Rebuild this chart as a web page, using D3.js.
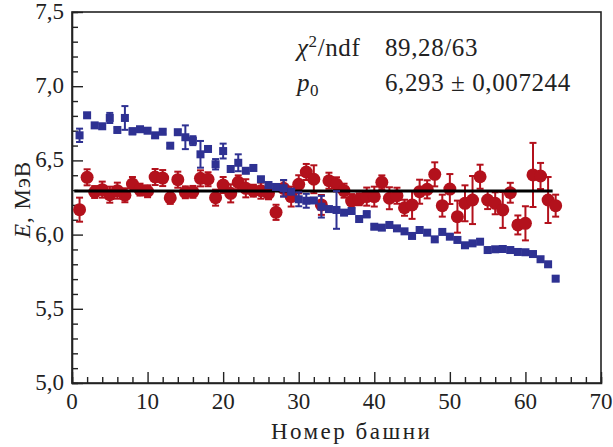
<!DOCTYPE html>
<html>
<head>
<meta charset="utf-8">
<script src="https://cdn.jsdelivr.net/npm/d3@7"></script>
<style>
  body { margin: 0; background: #fff; }
  svg text { font-family: "Liberation Serif", "Times New Roman", Tinos, "Noto Serif", "DejaVu Serif", FreeSerif, serif; fill: #222; }
</style>
</head>
<body>
<div id="chart"></div>
<script>
// tower numbers 1..64
const towers = [
  1, 2, 3, 4, 5, 6, 7, 8, 9, 10, 11, 12, 13, 14, 15, 16,
  17, 18, 19, 20, 21, 22, 23, 24, 25, 26, 27, 28, 29, 30, 31, 32,
  33, 34, 35, 36, 37, 38, 39, 40, 41, 42, 43, 44, 45, 46, 47, 48,
  49, 50, 51, 52, 53, 54, 55, 56, 57, 58, 59, 60, 61, 62, 63, 64
];

// blue squares (before calibration)
const blueE = [
  6.669, 6.804, 6.736, 6.730, 6.786, 6.705, 6.786, 6.696, 6.710, 6.700, 6.669, 6.693, 6.599, 6.690, 6.656, 6.633,
  6.541, 6.577, 6.474, 6.563, 6.442, 6.484, 6.430, 6.449, 6.373, 6.334, 6.321, 6.312, 6.289, 6.238, 6.228, 6.230,
  6.188, 6.172, 6.166, 6.148, 6.159, 6.105, 6.137, 6.053, 6.047, 6.065, 6.042, 6.022, 5.991, 6.031, 6.013, 5.968,
  6.018, 5.986, 5.964, 5.928, 5.941, 5.952, 5.896, 5.901, 5.903, 5.896, 5.883, 5.881, 5.869, 5.834, 5.800, 5.703
];
const blueErr = [
  0.045, 0.015, 0.015, 0.015, 0.034, 0.015, 0.080, 0.020, 0.015, 0.015, 0.015, 0.015, 0.015, 0.015, 0.080, 0.030,
  0.090, 0.015, 0.035, 0.050, 0.015, 0.057, 0.015, 0.015, 0.015, 0.015, 0.015, 0.056, 0.015, 0.047, 0.047, 0.015,
  0.073, 0.015, 0.127, 0.015, 0.015, 0.015, 0.020, 0.015, 0.015, 0.015, 0.015, 0.015, 0.015, 0.015, 0.015, 0.015,
  0.015, 0.015, 0.015, 0.015, 0.015, 0.015, 0.015, 0.015, 0.015, 0.015, 0.015, 0.015, 0.015, 0.015, 0.015, 0.015
];

// red circles (after calibration)
const redE = [
  6.168, 6.386, 6.287, 6.303, 6.269, 6.296, 6.265, 6.341, 6.303, 6.292, 6.388, 6.381, 6.247, 6.370, 6.285, 6.288,
  6.379, 6.373, 6.249, 6.334, 6.278, 6.352, 6.312, 6.296, 6.296, 6.278, 6.150, 6.312, 6.256, 6.339, 6.422, 6.373,
  6.200, 6.363, 6.339, 6.296, 6.226, 6.238, 6.256, 6.256, 6.352, 6.245, 6.262, 6.181, 6.200, 6.289, 6.305, 6.406,
  6.195, 6.307, 6.121, 6.211, 6.233, 6.390, 6.233, 6.211, 6.166, 6.282, 6.065, 6.076, 6.402, 6.395, 6.233, 6.195
];
const redErr = [
  0.081, 0.054, 0.040, 0.054, 0.054, 0.054, 0.047, 0.047, 0.040, 0.040, 0.054, 0.054, 0.040, 0.054, 0.040, 0.040,
  0.054, 0.047, 0.054, 0.054, 0.061, 0.047, 0.061, 0.040, 0.054, 0.040, 0.051, 0.054, 0.067, 0.061, 0.054, 0.094,
  0.067, 0.054, 0.047, 0.047, 0.047, 0.040, 0.061, 0.067, 0.047, 0.074, 0.054, 0.054, 0.094, 0.081, 0.061, 0.081,
  0.074, 0.101, 0.108, 0.121, 0.162, 0.081, 0.061, 0.074, 0.121, 0.067, 0.064, 0.115, 0.216, 0.088, 0.155, 0.074
];

// constant fit
const fitP0 = 6.293;
const fitRange = [0.3, 63.6];
const statValues = ["89,28/63", "6,293 ± 0,007244"];

const xTickValues = [0, 10, 20, 30, 40, 50, 60, 70];
const yTickValues = [5.0, 5.5, 6.0, 6.5, 7.0, 7.5];

const width = 613, height = 447;
const margin = { top: 12, right: 12, bottom: 64, left: 72 };
const fmt = d => d3.format('.1f')(d).replace('.', ',');

const svg = d3.select('#chart').append('svg')
  .attr('width', width)
  .attr('height', height);

const x = d3.scaleLinear().domain([0, 70]).range([margin.left, width - margin.right]);
const y = d3.scaleLinear().domain([5.0, 7.5]).range([height - margin.bottom, margin.top]);

const red = '#b3111c';
const blue = '#2e3192';

// frame
svg.append('rect')
  .attr('x', x(0)).attr('y', y(7.5))
  .attr('width', x(70) - x(0)).attr('height', y(5.0) - y(7.5))
  .attr('fill', 'none').attr('stroke', '#222').attr('stroke-width', 1.6);

// ticks (inward)
const xAxis = d3.axisBottom(x).tickValues(d3.range(0, 71, 2))
  .tickSize(-6).tickFormat('');
const xg = svg.append('g').attr('transform', `translate(0,${y(5.0)})`).call(xAxis);
xg.selectAll('.tick line').filter(d => d % 10 === 0).attr('y2', -11);

const yAxis = d3.axisLeft(y).tickValues(d3.range(50, 76, 1).map(d => d / 10))
  .tickSize(-6).tickFormat('');
const yg = svg.append('g').attr('transform', `translate(${x(0)},0)`).call(yAxis);
yg.selectAll('.tick line').filter(d => Math.round(d * 10) % 5 === 0).attr('x2', 11);

[xg, yg].forEach(g => {
  g.select('.domain').attr('stroke', '#222').attr('stroke-width', 1.6);
  g.selectAll('.tick line').attr('stroke', '#222').attr('stroke-width', 1.4);
});

// tick labels
svg.append('g').selectAll('text')
  .data(xTickValues).join('text')
  .attr('x', d => x(d)).attr('y', y(5.0) + 26)
  .attr('text-anchor', 'middle')
  .style('font-size', '23px')
  .text(d => d);

svg.append('g').selectAll('text')
  .data(yTickValues).join('text')
  .attr('x', x(0) - 8).attr('y', d => y(d) + 7)
  .attr('text-anchor', 'end')
  .style('font-size', '23px')
  .text(fmt);

// axis titles
svg.append('text')
  .attr('x', x(37)).attr('y', height - 8)
  .attr('text-anchor', 'middle')
  .style('font-size', '23px')
  .style('letter-spacing', '2.5px')
  .text('Номер башни');

const yt = svg.append('text')
  .attr('transform', `translate(30,${(y(5) + y(7.5)) / 2 + 2}) rotate(-90)`)
  .attr('text-anchor', 'middle')
  .style('font-size', '23px')
  .style('letter-spacing', '1px');
yt.append('tspan').style('font-style', 'italic').text('E');
yt.append('tspan').text(', МэВ');

const redData = towers.map((t, i) => ({ t, e: redE[i], err: redErr[i] }));
const blueData = towers.map((t, i) => ({ t, e: blueE[i], err: blueErr[i] }));

function errorBars(data, color, cls) {
  const g = svg.append('g').attr('class', cls);
  g.selectAll('line.v').data(data).join('line')
    .attr('class', 'v')
    .attr('x1', d => x(d.t)).attr('x2', d => x(d.t))
    .attr('y1', d => y(d.e - d.err)).attr('y2', d => y(d.e + d.err))
    .attr('stroke', color).attr('stroke-width', 2);
  ['lo', 'hi'].forEach(side => {
    g.selectAll('line.' + side).data(data).join('line')
      .attr('class', side)
      .attr('x1', d => x(d.t) - 3.5).attr('x2', d => x(d.t) + 3.5)
      .attr('y1', d => y(side === 'lo' ? d.e - d.err : d.e + d.err))
      .attr('y2', d => y(side === 'lo' ? d.e - d.err : d.e + d.err))
      .attr('stroke', color).attr('stroke-width', 2);
  });
  return g;
}

// red points
errorBars(redData, red, 'red-err');
svg.append('g').selectAll('circle')
  .data(redData).join('circle')
  .attr('cx', d => x(d.t)).attr('cy', d => y(d.e))
  .attr('r', 6.5)
  .attr('fill', red);

// fit line
svg.append('line')
  .attr('x1', x(fitRange[0])).attr('x2', x(fitRange[1]))
  .attr('y1', y(fitP0)).attr('y2', y(fitP0))
  .attr('stroke', '#000').attr('stroke-width', 3);

// blue points
errorBars(blueData, blue, 'blue-err');
svg.append('g').selectAll('rect')
  .data(blueData).join('rect')
  .attr('x', d => x(d.t) - 4).attr('y', d => y(d.e) - 4)
  .attr('width', 8).attr('height', 8)
  .attr('fill', blue);

// fit statistics
const stats = svg.append('g').style('font-size', '25px').style('letter-spacing', '0.6px');
stats.append('text').attr('x', 297).attr('y', 56)
  .html('<tspan font-style="italic">χ</tspan><tspan dy="-9" font-size="17">2</tspan><tspan dy="9">/ndf</tspan>');
stats.append('text').attr('x', 297).attr('y', 91)
  .html('<tspan font-style="italic">p</tspan><tspan dy="5" font-size="17">0</tspan>');
statValues.forEach((v, i) => {
  stats.append('text').attr('x', 385).attr('y', 56 + i * 35).text(v);
});
</script>
</body>
</html>
